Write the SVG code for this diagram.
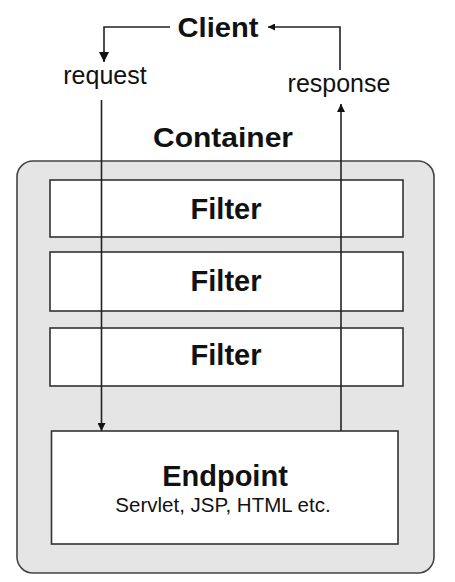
<svg xmlns="http://www.w3.org/2000/svg" width="455" height="582" viewBox="0 0 455 582">
<style>
.bold{font-family:"Liberation Sans",Arial,sans-serif;font-weight:bold;fill:#111;text-anchor:middle}
.reg{font-family:"Liberation Sans",Arial,sans-serif;fill:#111;text-anchor:middle}
.box{fill:#fff;stroke:#333;stroke-width:1.6}
.conn{fill:none;stroke:#222;stroke-width:1.6}
</style>
<defs>
<marker id="ah" viewBox="0 0 10 10" refX="10" refY="5" markerWidth="12" markerHeight="7" markerUnits="userSpaceOnUse" orient="auto">
<path d="M0,0 L10,5 L0,10 z" fill="#111"/>
</marker>
<marker id="ahBig" viewBox="0 0 10 10" refX="10" refY="5" markerWidth="12" markerHeight="10" markerUnits="userSpaceOnUse" orient="auto">
<path d="M0,0 L10,5 L0,10 z" fill="#111"/>
</marker>
<marker id="ahNarrow" viewBox="0 0 10 10" refX="10" refY="5" markerWidth="12" markerHeight="8" markerUnits="userSpaceOnUse" orient="auto">
<path d="M0,0 L10,5 L0,10 z" fill="#111"/>
</marker>
</defs>
<rect width="455" height="582" fill="#fff"/>
<g id="container">
<rect x="17" y="161" width="417" height="412" rx="16" ry="16" fill="#e5e5e5" stroke="#444" stroke-width="1.6"/>
<text class="bold" x="223" y="147" font-size="27" textLength="140" lengthAdjust="spacingAndGlyphs">Container</text>
</g>
<g id="client">
<text class="bold" x="218" y="37" font-size="27" textLength="81" lengthAdjust="spacingAndGlyphs">Client</text>
</g>
<g id="filter1">
<rect class="box" x="50" y="180" width="353" height="57"/>
<text class="bold" x="226" y="219" font-size="29">Filter</text>
</g>
<g id="filter2">
<rect class="box" x="50" y="252" width="353" height="59"/>
<text class="bold" x="226" y="291" font-size="29">Filter</text>
</g>
<g id="filter3">
<rect class="box" x="50" y="328" width="353" height="58"/>
<text class="bold" x="226" y="365" font-size="29">Filter</text>
</g>
<g id="endpoint">
<rect class="box" x="51.5" y="431" width="346.5" height="113"/>
<text class="bold" x="225" y="486" font-size="29">Endpoint</text>
<text class="reg" x="223" y="512" font-size="20.5" fill="#222">Servlet, JSP, HTML etc.</text>
</g>
<g id="connectors">
<path class="conn" d="M170,27 H104 V62" marker-end="url(#ahBig)"/>
<text class="reg" x="105" y="84" font-size="25">request</text>
<path class="conn" d="M101.5,100 V431" marker-end="url(#ahNarrow)"/>
<path class="conn" d="M341,431 V104" marker-end="url(#ahNarrow)"/>
<text class="reg" x="339" y="92" font-size="25">response</text>
<path class="conn" d="M340,70 V27 H268" marker-end="url(#ah)"/>
</g>
</svg>
